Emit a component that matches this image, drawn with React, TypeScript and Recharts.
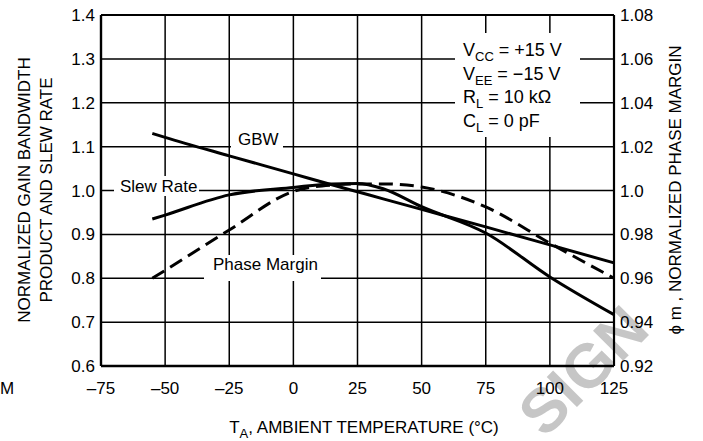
import React from 'react';
import { LineChart, Line, XAxis, YAxis, CartesianGrid, ReferenceLine } from 'recharts';

const temps = [-55, -50, -25, 0, 15, 25, 35, 50, 75, 100, 125];
const gbw = [1.13, 1.121, 1.079, 1.038, 1.013, 0.997, 0.981, 0.957, 0.917, 0.876, 0.835];
const slewRate = [0.935, 0.944, 0.99, 1.007, 1.015, 1.016, 1.004, 0.963, 0.903, 0.803, 0.717];
const phaseMargin = [0.96, 0.9636, 0.982, 0.9996, 1.0025, 1.003, 1.003, 1.0016, 0.9925, 0.976, 0.96];

const xTicks = [-75, -50, -25, 0, 25, 50, 75, 100, 125];
const xTickLabels = ['–75', '–50', '–25', '0', '25', '50', '75', '100', '125'];
const leftTicks = [0.6, 0.7, 0.8, 0.9, 1.0, 1.1, 1.2, 1.3, 1.4];
const leftTickLabels = ['0.6', '0.7', '0.8', '0.9', '1.0', '1.1', '1.2', '1.3', '1.4'];
const rightTicks = [0.92, 0.94, 0.96, 0.98, 1.0, 1.02, 1.04, 1.06, 1.08];
const rightTickLabels = ['0.92', '0.94', '0.96', '0.98', '1.0', '1.02', '1.04', '1.06', '1.08'];

const rows = temps.map((t, i) => ({ t, gbw: gbw[i], slew: slewRate[i], pm: phaseMargin[i] }));

const FONT = "'Liberation Sans', Arial, Helvetica, sans-serif";
const tickStyle = { fill: '#000', fontSize: 17, fontFamily: FONT };

const labelFor = (ticks: number[], labels: string[]) => (v: number) => {
  const i = ticks.findIndex((t) => Math.abs(t - v) < 1e-6);
  return i >= 0 ? labels[i] : String(v);
};

export default function App() {
  return (
    <div style={{ position: 'absolute', left: 0, top: 0, width: 703, height: 441, background: '#fff', fontFamily: FONT }}>
      <svg width={703} height={441} style={{ position: 'absolute', left: 0, top: 0 }}>
        <text
          x={652}
          y={332}
          textAnchor="end"
          fontFamily={FONT}
          fontWeight="bold"
          fontSize={62}
          fill="#c6c6c6"
          transform="rotate(-45 652 332)"
        >
          SIGN
        </text>
      </svg>
      <div style={{ position: 'absolute', left: 0, top: 0 }}>
        <LineChart width={703} height={441} data={rows} margin={{ top: 15, right: 0, bottom: 0, left: 0 }}>
          <CartesianGrid stroke="#000" strokeWidth={1.5} yAxisId="left" />
          <XAxis
            dataKey="t"
            type="number"
            domain={[-75, 125]}
            ticks={xTicks}
            tickFormatter={labelFor(xTicks, xTickLabels)}
            height={75}
            tickLine={false}
            tickSize={0}
            tickMargin={16}
            axisLine={{ stroke: '#000', strokeWidth: 2.4 }}
            tick={tickStyle}
            interval={0}
          />
          <YAxis
            yAxisId="left"
            orientation="left"
            domain={[0.6, 1.4]}
            ticks={leftTicks}
            tickFormatter={labelFor(leftTicks, leftTickLabels)}
            width={101}
            tickLine={false}
            tickSize={0}
            tickMargin={6}
            axisLine={{ stroke: '#000', strokeWidth: 2.4 }}
            tick={tickStyle}
            interval={0}
          />
          <YAxis
            yAxisId="right"
            orientation="right"
            domain={[0.92, 1.08]}
            ticks={rightTicks}
            tickFormatter={labelFor(rightTicks, rightTickLabels)}
            width={89}
            tickLine={false}
            tickSize={0}
            tickMargin={6}
            axisLine={{ stroke: '#000', strokeWidth: 2.2 }}
            tick={tickStyle}
            interval={0}
          />
          <ReferenceLine yAxisId="left" y={1.4} stroke="#000" strokeWidth={2} />
          <Line yAxisId="left" dataKey="gbw" type="monotone" stroke="#000" strokeWidth={3} dot={false} isAnimationActive={false} />
          <Line yAxisId="left" dataKey="slew" type="monotone" stroke="#000" strokeWidth={3} dot={false} isAnimationActive={false} />
          <Line
            yAxisId="right"
            dataKey="pm"
            type="monotone"
            stroke="#000"
            strokeWidth={3}
            strokeDasharray="14 7"
            dot={false}
            isAnimationActive={false}
          />
        </LineChart>
      </div>
      <svg width={703} height={441} style={{ position: 'absolute', left: 0, top: 0 }} fontFamily={FONT} fontSize={17} fill="#000">
        <rect x={231} y={128} width={52} height={22} fill="#fff" />
        <text x={238} y={145}>GBW</text>
        <rect x={114} y={176} width={85} height={20} fill="#fff" />
        <text x={120} y={192}>Slew Rate</text>
        <rect x={204} y={255} width={117} height={26} fill="#fff" />
        <text x={213} y={270}>Phase Margin</text>
        <rect x={455} y={33} width={125} height={104} fill="#fff" />
        <text x={463} y={56} fontSize={18}>
          V<tspan fontSize={13} dy={5}>CC</tspan><tspan dy={-5}> = +15 V</tspan>
        </text>
        <text x={463} y={80} fontSize={18}>
          V<tspan fontSize={13} dy={5}>EE</tspan><tspan dy={-5}> = −15 V</tspan>
        </text>
        <text x={463} y={103} fontSize={18}>
          R<tspan fontSize={13} dy={5}>L</tspan><tspan dy={-5}> = 10 kΩ</tspan>
        </text>
        <text x={463} y={127} fontSize={18}>
          C<tspan fontSize={13} dy={5}>L</tspan><tspan dy={-5}> = 0 pF</tspan>
        </text>
        <text x={30} y={190} textAnchor="middle" transform="rotate(-90 30 190)">NORMALIZED GAIN BANDWIDTH</text>
        <text x={52} y={190} textAnchor="middle" transform="rotate(-90 52 190)">PRODUCT AND SLEW RATE</text>
        <text x={681} y={190} textAnchor="middle" transform="rotate(-90 681 190)">ϕ m , NORMALIZED PHASE MARGIN</text>
        <text x={364} y={433} textAnchor="middle">
          T<tspan fontSize={13} dy={5}>A</tspan><tspan dy={-5}>, AMBIENT TEMPERATURE (°C)</tspan>
        </text>
        <text x={0} y={394}>M</text>
      </svg>
    </div>
  );
}
